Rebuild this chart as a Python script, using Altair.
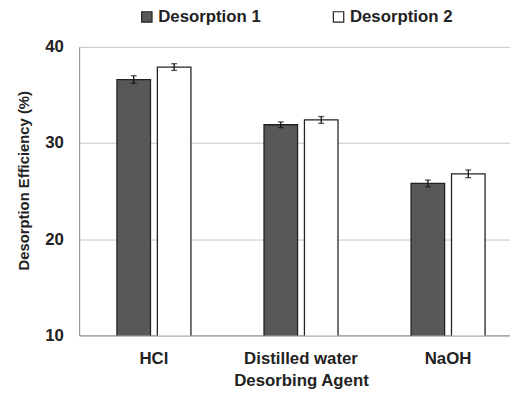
import altair as alt
import pandas as pd

agents = ["HCl", "Distilled water", "NaOH"]
series = ["Desorption 1", "Desorption 2"]
d1 = [36.6, 31.9, 25.8]
d2 = [37.9, 32.4, 26.8]
e1 = [0.4, 0.3, 0.35]
e2 = [0.35, 0.35, 0.4]

rows = []
for i, a in enumerate(agents):
    rows.append({"agent": a, "series": series[0], "value": d1[i], "lo": d1[i] - e1[i], "hi": d1[i] + e1[i]})
    rows.append({"agent": a, "series": series[1], "value": d2[i], "lo": d2[i] - e2[i], "hi": d2[i] + e2[i]})
df = pd.DataFrame(rows)

FONT = "Liberation Sans"
TXT = "#222222"

xenc = alt.X("agent:N", sort=agents, title="Desorbing Agent",
             scale=alt.Scale(paddingInner=0.383, paddingOuter=0.2, range=[0, 449]),
             axis=alt.Axis(labelAngle=0, ticks=False, domainColor="#888888", labelPadding=15,
                           titlePadding=7, labelFontSize=17, titleFontSize=17))
xoff = alt.XOffset("series:N", sort=series, scale=alt.Scale(paddingInner=0.17, paddingOuter=0.207))
yscale = alt.Scale(domain=[10, 40])

bars = alt.Chart(df).mark_bar(stroke="#222222", strokeWidth=1.3, clip=True).encode(
    x=xenc,
    xOffset=xoff,
    y=alt.Y("value:Q", scale=yscale, title="Desorption Efficiency (%)",
            axis=alt.Axis(values=[10, 20, 30, 40], ticks=False, grid=True, gridColor="#c4c4c4",
                          domainColor="#888888", labelPadding=16, titlePadding=13,
                          labelFontSize=17, titleFontSize=15, titleY=135)),
    color=alt.Color("series:N", sort=series,
                    scale=alt.Scale(domain=series, range=["#585858", "#ffffff"]),
                    legend=alt.Legend(title=None, orient="none", direction="horizontal",
                                      legendX=60, legendY=-39, symbolType="square",
                                      symbolSize=110, symbolStrokeColor="#222222",
                                      symbolStrokeWidth=1.2, labelFontSize=17,
                                      labelOffset=3, columnPadding=70)),
)

err = alt.Chart(df).mark_rule(color="#111111", strokeWidth=1.3).encode(
    x=alt.X("agent:N", sort=agents), xOffset=xoff,
    y=alt.Y("lo:Q", scale=yscale), y2="hi:Q")
cap_lo = alt.Chart(df).mark_tick(color="#111111", size=6, thickness=1.3, orient="horizontal").encode(
    x=alt.X("agent:N", sort=agents), xOffset=xoff, y=alt.Y("lo:Q", scale=yscale))
cap_hi = alt.Chart(df).mark_tick(color="#111111", size=6, thickness=1.3, orient="horizontal").encode(
    x=alt.X("agent:N", sort=agents), xOffset=xoff, y=alt.Y("hi:Q", scale=yscale))

chart = alt.layer(bars, err, cap_lo, cap_hi).properties(
    width=436, height=292,
    autosize=alt.AutoSizeParams(type="none"),
    padding={"left": 72, "top": 37, "right": 0, "bottom": 59}
).configure_view(stroke=None).configure_axis(
    labelFont=FONT, titleFont=FONT, labelFontWeight="bold", titleFontWeight="bold",
    labelColor=TXT, titleColor=TXT
).configure_legend(labelFont=FONT, labelFontWeight="bold", labelColor=TXT)

chart.save("out.html", embed_options={"renderer": "svg", "actions": False})
